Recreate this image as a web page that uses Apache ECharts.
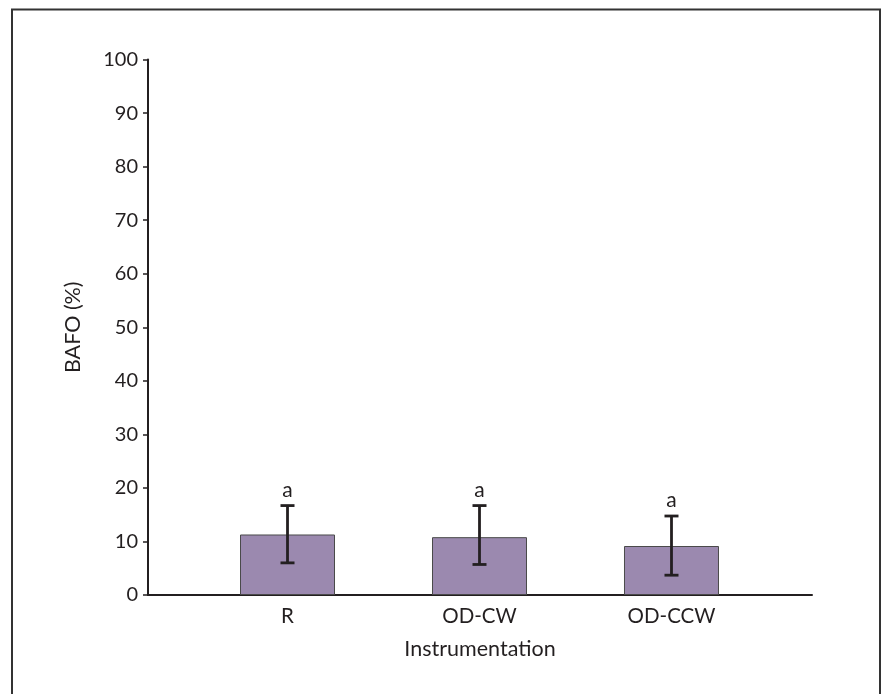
<!DOCTYPE html>
<html>
<head>
<meta charset="utf-8">
<script src="https://cdn.jsdelivr.net/npm/echarts@6/dist/echarts.min.js"></script>
<style>
html,body{margin:0;padding:0;background:#fff;}
#chart{width:884px;height:694px;}
</style>
</head>
<body>
<div id="chart"></div>
<script>
var categories = ['R', 'OD-CW', 'OD-CCW'];
var categoryPositions = [1, 2, 3];
var meanValues = [11.3, 10.8, 9.15];
var errorLow = [6.0, 5.7, 3.7];
var errorHigh = [16.7, 16.7, 14.75];
var letters = ['a', 'a', 'a'];
var yTicks = [0, 10, 20, 30, 40, 50, 60, 70, 80, 90, 100];

var ink = '#231f20';
var fontFamily = 'Lato, "Noto Sans", sans-serif';

var chart = echarts.init(document.getElementById('chart'), null, {renderer: 'canvas'});

var barData = categoryPositions.map(function (p, i) { return [p, meanValues[i]]; });
var errData = categoryPositions.map(function (p, i) { return [p, errorLow[i], errorHigh[i], i]; });

var option = {
  backgroundColor: '#ffffff',
  animation: false,
  graphic: [{
    type: 'rect',
    shape: {x: 12, y: 9.5, width: 868, height: 700},
    style: {fill: 'none', stroke: '#333333', lineWidth: 2},
    silent: true
  }],
  grid: {left: 148, right: 72, top: 59.5, bottom: 99, containLabel: false},
  xAxis: {
    type: 'value',
    min: 0.2734,
    max: 3.7318,
    splitLine: {show: false},
    axisLine: {show: true, onZero: false, lineStyle: {color: ink, width: 2}},
    axisTick: {show: false},
    axisLabel: {
      show: true,
      customValues: categoryPositions,
      formatter: function (v) {
        var idx = categoryPositions.indexOf(Math.round(v));
        return idx >= 0 ? categories[idx] : '';
      },
      color: ink,
      fontSize: 20.5,
      fontFamily: fontFamily,
      margin: 11
    },
    name: 'Instrumentation',
    nameLocation: 'middle',
    nameGap: 43,
    nameTextStyle: {color: ink, fontSize: 21.5, fontFamily: fontFamily}
  },
  yAxis: {
    type: 'value',
    min: 0,
    max: 100,
    interval: 10,
    splitLine: {show: false},
    axisLine: {show: true, lineStyle: {color: ink, width: 2}},
    axisTick: {show: true, inside: false, length: 5, lineStyle: {color: ink, width: 1.5}},
    axisLabel: {
      color: ink,
      fontSize: 20,
      fontFamily: fontFamily,
      margin: 10,
      customValues: yTicks
    },
    name: 'BAFO (%)',
    nameLocation: 'middle',
    nameGap: 64,
    nameRotate: 90,
    nameTextStyle: {color: ink, fontSize: 21.5, fontFamily: fontFamily}
  },
  series: [
    {
      type: 'bar',
      data: barData,
      barWidth: 95,
      itemStyle: {color: '#9b89af', borderColor: '#4a4a4a', borderWidth: 1},
      z: 2
    },
    {
      type: 'custom',
      data: errData,
      z: 3,
      renderItem: function (params, api) {
        var x = api.value(0);
        var lo = api.coord([x, api.value(1)]);
        var hi = api.coord([x, api.value(2)]);
        var idx = api.value(3);
        var hw = 7;
        var st = {stroke: ink, lineWidth: 2.8, fill: 'none'};
        return {
          type: 'group',
          children: [
            {type: 'line', shape: {x1: hi[0], y1: hi[1], x2: lo[0], y2: lo[1]}, style: st},
            {type: 'line', shape: {x1: hi[0] - hw, y1: hi[1], x2: hi[0] + hw, y2: hi[1]}, style: st},
            {type: 'line', shape: {x1: lo[0] - hw, y1: lo[1], x2: lo[0] + hw, y2: lo[1]}, style: st},
            {type: 'text', style: {
              text: letters[idx], x: hi[0], y: hi[1] - 5,
              align: 'center', verticalAlign: 'bottom',
              fill: ink, fontSize: 21, fontFamily: fontFamily
            }}
          ]
        };
      }
    }
  ]
};
chart.setOption(option);
</script>
</body>
</html>
